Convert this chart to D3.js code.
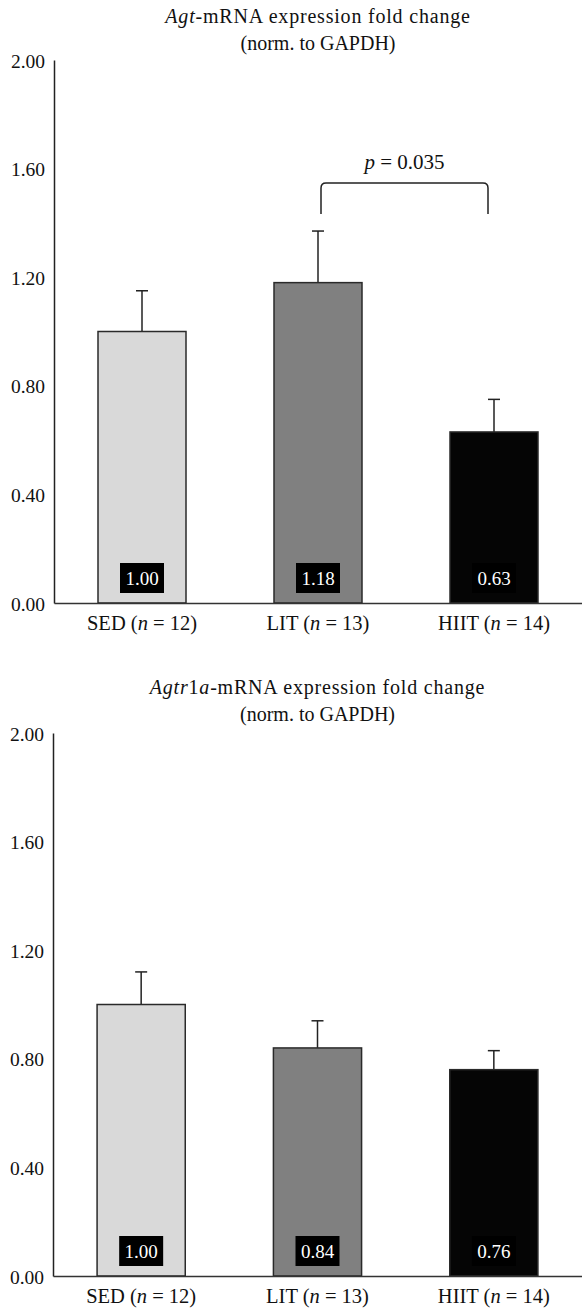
<!DOCTYPE html>
<html>
<head>
<meta charset="utf-8">
<script src="https://cdn.jsdelivr.net/npm/d3@7"></script>
<style>
  body { margin: 0; background: #fff; }
</style>
</head>
<body>
<svg width="582" height="1308"></svg>
<script>
const groups = ['SED', 'LIT', 'HIIT'];
const groupN = [12, 13, 14];
const yTicks = [0, 0.4, 0.8, 1.2, 1.6, 2.0];

const agtMeans = [1.00, 1.18, 0.63];
const agtErrors = [0.15, 0.19, 0.12];

const agtr1aMeans = [1.00, 0.84, 0.76];
const agtr1aErrors = [0.12, 0.10, 0.07];

// significance bracket for Agt: LIT vs HIIT
const agtBracket = { from: 'LIT', to: 'HIIT', top: 1.547, bottom: 1.433, label: '0.035' };

const barFills = ['#d9d9d9', '#808080', '#050505'];

const font = '"Liberation Serif"';

const svg = d3.select('svg');
const width = +svg.attr('width');

const drawPanel = (cfg) => {
    const { left, top, bottom, titleParts, titleY, means, errors, bracket } = cfg;

    const xScale = d3.scaleBand()
        .domain(groups)
        .range([left, width])
        .paddingInner(0.5)
        .paddingOuter(0.25);

    const yScale = d3.scaleLinear()
        .domain([0, 2])
        .range([bottom, top]);

    const g = svg.append('g');

    // title
    const t1 = g.append('text')
        .style('font-family', font)
        .style('font-size', '20px')
        .style('letter-spacing', '0.8px')
        .attr('fill', '#111')
        .attr('x', (left + width) / 2)
        .attr('y', titleY)
        .attr('text-anchor', 'middle');
    titleParts.forEach(p => {
        t1.append('tspan').style('font-style', p.italic ? 'italic' : 'normal').text(p.text);
    });
    g.append('text')
        .style('font-family', font)
        .style('font-size', '20px')
        .attr('fill', '#111')
        .attr('x', (left + width) / 2)
        .attr('y', titleY + 27)
        .attr('text-anchor', 'middle')
        .text('(norm. to GAPDH)');

    const data = groups.map((k, i) => ({ key: k, n: groupN[i], mean: means[i], err: errors[i], fill: barFills[i] }));
    const cx = d => xScale(d.key) + xScale.bandwidth() / 2;

    // error bars (upper only)
    const eb = g.selectAll('.err').data(data).enter().append('g').attr('class', 'err');
    eb.append('line')
        .attr('x1', cx).attr('x2', cx)
        .attr('y1', d => yScale(d.mean))
        .attr('y2', d => yScale(d.mean + d.err))
        .attr('stroke', '#222').attr('stroke-width', 1.5);
    eb.append('line')
        .attr('x1', d => cx(d) - 6)
        .attr('x2', d => cx(d) + 6)
        .attr('y1', d => yScale(d.mean + d.err))
        .attr('y2', d => yScale(d.mean + d.err))
        .attr('stroke', '#222').attr('stroke-width', 1.5);

    // bars
    g.selectAll('.bar').data(data).enter().append('rect')
        .attr('class', 'bar')
        .attr('x', d => xScale(d.key))
        .attr('y', d => yScale(d.mean))
        .attr('width', xScale.bandwidth())
        .attr('height', d => yScale(0) - yScale(d.mean))
        .attr('fill', d => d.fill)
        .attr('stroke', '#2a2a2a')
        .attr('stroke-width', 1.5);

    // value boxes
    const vb = g.selectAll('.vbox').data(data).enter().append('g').attr('class', 'vbox');
    vb.append('rect')
        .attr('x', d => cx(d) - 22)
        .attr('y', yScale(0) - 40)
        .attr('width', 44)
        .attr('height', 30)
        .attr('fill', '#000');
    vb.append('text')
        .style('font-family', font)
        .style('font-size', '19px')
        .attr('fill', '#fff')
        .attr('x', cx)
        .attr('y', yScale(0) - 18)
        .attr('text-anchor', 'middle')
        .text(d => d.mean.toFixed(2));

    // y axis
    const yAxis = d3.axisLeft(yScale)
        .tickValues(yTicks)
        .tickFormat(d3.format('.2f'))
        .tickSize(0)
        .tickPadding(9);
    const yAxisG = g.append('g')
        .attr('transform', `translate(${left},0)`)
        .call(yAxis);
    yAxisG.select('.domain').attr('stroke', '#222').attr('stroke-width', 1.5);
    yAxisG.selectAll('.tick text')
        .style('font-family', font)
        .style('font-size', '19.5px')
        .attr('fill', '#111')
        .attr('dy', '0.36em');

    // x axis
    const xAxis = d3.axisBottom(xScale).tickSize(0).tickFormat('');
    const xAxisG = g.append('g')
        .attr('transform', `translate(0,${bottom})`)
        .call(xAxis);
    xAxisG.select('.domain').attr('stroke', '#333').attr('stroke-width', 1.5);

    const cat = g.selectAll('.cat').data(data).enter().append('text')
        .attr('class', 'cat')
        .style('font-family', font)
        .style('font-size', '20.5px')
        .attr('fill', '#111')
        .attr('x', cx)
        .attr('y', bottom + 27)
        .attr('text-anchor', 'middle');
    cat.append('tspan').text(d => d.key + ' (');
    cat.append('tspan').style('font-style', 'italic').text('n');
    cat.append('tspan').text(d => ' = ' + d.n + ')');

    // significance bracket
    if (bracket) {
        const x1 = xScale(bracket.from) + xScale.bandwidth() / 2 + 3;
        const x2 = xScale(bracket.to) + xScale.bandwidth() / 2 - 6;
        const yTop = yScale(bracket.top);
        const yBot = yScale(bracket.bottom);
        const r = 5;
        const path = d3.path();
        path.moveTo(x1, yBot);
        path.lineTo(x1, yTop + r);
        path.quadraticCurveTo(x1, yTop, x1 + r, yTop);
        path.lineTo(x2 - r, yTop);
        path.quadraticCurveTo(x2, yTop, x2, yTop + r);
        path.lineTo(x2, yBot);
        g.append('path')
            .attr('d', path.toString())
            .attr('fill', 'none')
            .attr('stroke', '#222')
            .attr('stroke-width', 1.5);
        const pt = g.append('text')
            .style('font-family', font)
            .style('font-size', '21px')
            .attr('fill', '#111')
            .attr('x', (x1 + x2) / 2)
            .attr('y', yTop - 14)
            .attr('text-anchor', 'middle');
        pt.append('tspan').style('font-style', 'italic').text('p');
        pt.append('tspan').text(' = ' + bracket.label);
    }
};

drawPanel({
    left: 54, top: 60, bottom: 603, titleY: 23,
    titleParts: [{ text: 'Agt', italic: true }, { text: '-mRNA expression fold change' }],
    means: agtMeans, errors: agtErrors, bracket: agtBracket
});

drawPanel({
    left: 53, top: 733, bottom: 1276, titleY: 694,
    titleParts: [{ text: 'Agtr', italic: true }, { text: '1' }, { text: 'a', italic: true }, { text: '-mRNA expression fold change' }],
    means: agtr1aMeans, errors: agtr1aErrors, bracket: null
});
</script>
</body>
</html>
